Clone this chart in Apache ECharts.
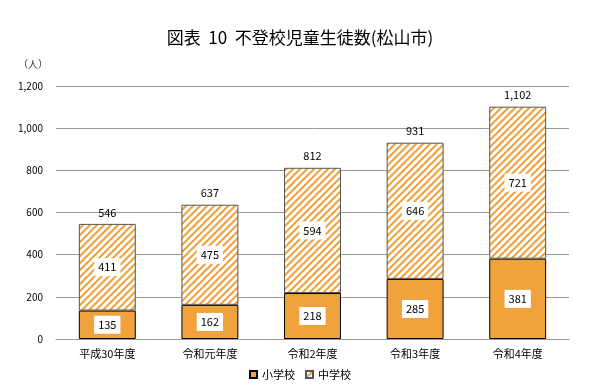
<!DOCTYPE html>
<html><head><meta charset="utf-8">
<script src="https://cdn.jsdelivr.net/npm/echarts@6/dist/echarts.min.js"></script>
<style>html,body{margin:0;padding:0;background:#fff}#c{width:600px;height:391px}</style>
</head><body><div id="c"></div>
<script>
const categories = ['平成30年度','令和元年度','令和2年度','令和3年度','令和4年度'];
const elementary = [135, 162, 218, 285, 381];
const juniorHigh = [411, 475, 594, 646, 721];
const totals = [546, 637, 812, 931, 1102];
const yTicks = [0, 200, 400, 600, 800, 1000, 1200];

const ORANGE = '#F0A23C';
function hatch() {
  const s = 7;
  const cv = document.createElement('canvas');
  cv.width = s; cv.height = s;
  const g = cv.getContext('2d');
  g.fillStyle = '#fff'; g.fillRect(0, 0, s, s);
  g.strokeStyle = ORANGE; g.lineWidth = 2;
  g.beginPath();
  for (let k = -1; k <= 1; k++) {
    g.moveTo(-1 + k * s, s + 1); g.lineTo(s + 1 + k * s, -1);
  }
  g.stroke();
  return cv;
}
const pattern = { image: hatch(), repeat: 'repeat' };
const FONT = '"Noto Sans CJK JP", sans-serif';
const boxLabel = {
  show: true, position: 'inside', color: '#000', fontSize: 11, fontFamily: FONT,
  backgroundColor: '#fff', padding: [4, 4, 3, 4]
};

const chart = echarts.init(document.getElementById('c'));
chart.setOption({
  animation: false,
  textStyle: { fontFamily: FONT },
  title: {
    text: '図表  10  不登校児童生徒数(松山市)', left: 'center', top: 24,
    textStyle: { fontSize: 17, fontWeight: 'normal', color: '#000', fontFamily: FONT }
  },
  graphic: [{ type: 'text', left: 18, top: 59, style: { text: '（人）', fill: '#333', font: '10px ' + FONT } }],
  legend: {
    bottom: 6, left: 'center', itemWidth: 7, itemHeight: 7, itemGap: 10,
    data: ['小学校', '中学校'],
    textStyle: { fontSize: 11, color: '#000', fontFamily: FONT },
    icon: 'rect'
  },
  grid: { left: 56, right: 31, top: 86, bottom: 52 },
  xAxis: {
    type: 'category', data: categories,
    axisTick: { show: false },
    axisLine: { lineStyle: { color: '#999' } },
    axisLabel: { color: '#000', fontSize: 11, margin: 9, fontFamily: FONT }
  },
  yAxis: {
    type: 'value', min: yTicks[0], max: yTicks[yTicks.length - 1], interval: 200,
    axisLine: { show: false }, axisTick: { show: false },
    splitLine: { lineStyle: { color: '#999' } },
    axisLabel: {
      color: '#000', fontSize: 10, margin: 13, fontFamily: FONT,
      formatter: v => v.toLocaleString('en-US')
    }
  },
  series: [
    {
      name: '小学校', type: 'bar', stack: 't', data: elementary, barWidth: '55.5%',
      itemStyle: { color: ORANGE, borderColor: '#000', borderWidth: 1 },
      label: boxLabel
    },
    {
      name: '中学校', type: 'bar', stack: 't', data: juniorHigh, barWidth: '55.5%',
      itemStyle: { color: pattern, borderColor: '#555', borderWidth: 1 },
      label: boxLabel
    },
    {
      name: '合計', type: 'bar', data: totals, barWidth: '55.5%', barGap: '-100%', z: 1,
      itemStyle: { color: 'rgba(0,0,0,0)' }, silent: true,
      label: {
        show: true, position: 'top', distance: 6, color: '#000', fontSize: 11, fontFamily: FONT,
        formatter: p => p.value.toLocaleString('en-US')
      }
    }
  ]
});
</script></body></html>
